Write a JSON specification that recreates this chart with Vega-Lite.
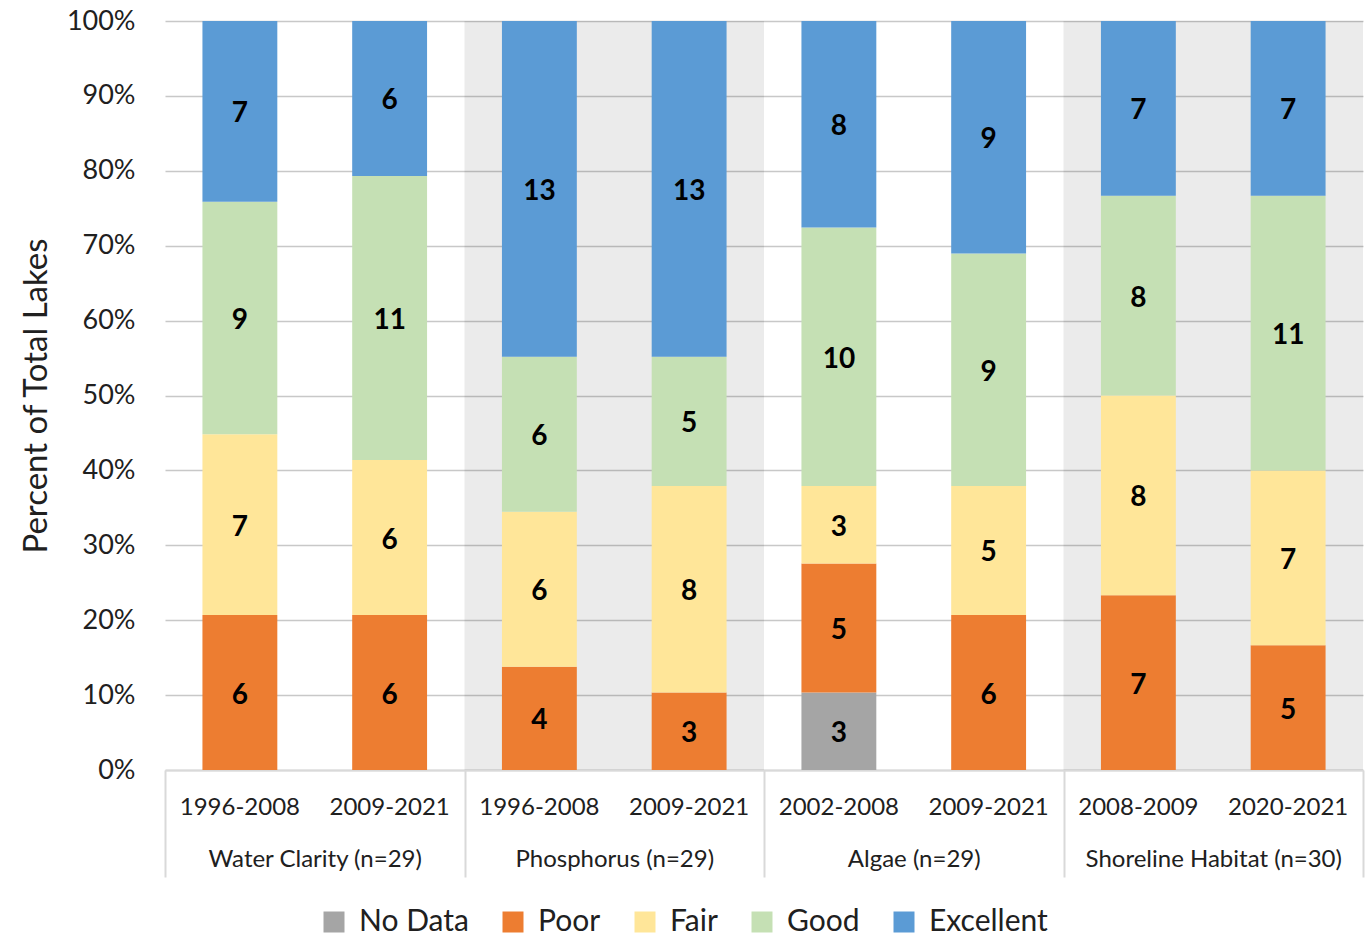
{
  "$schema": "https://vega.github.io/schema/vega-lite/v6.json",
  "width": 1198,
  "height": 749,
  "padding": {"left": 20, "top": 7, "right": 8, "bottom": 0},
  "config": {"font": "Lato", "view": {"stroke": null}},
  "datasets": {
    "groups": [
      {"group": "Water Clarity (n=29)", "shaded": false},
      {"group": "Phosphorus (n=29)", "shaded": true},
      {"group": "Algae (n=29)", "shaded": false},
      {"group": "Shoreline Habitat (n=30)", "shaded": true}
    ],
    "lakes": [
      {"bar": "Water Clarity (n=29)|1996-2008", "category": "Poor", "rank": 1, "count": 6},
      {"bar": "Water Clarity (n=29)|1996-2008", "category": "Fair", "rank": 2, "count": 7},
      {"bar": "Water Clarity (n=29)|1996-2008", "category": "Good", "rank": 3, "count": 9},
      {"bar": "Water Clarity (n=29)|1996-2008", "category": "Excellent", "rank": 4, "count": 7},
      {"bar": "Water Clarity (n=29)|2009-2021", "category": "Poor", "rank": 1, "count": 6},
      {"bar": "Water Clarity (n=29)|2009-2021", "category": "Fair", "rank": 2, "count": 6},
      {"bar": "Water Clarity (n=29)|2009-2021", "category": "Good", "rank": 3, "count": 11},
      {"bar": "Water Clarity (n=29)|2009-2021", "category": "Excellent", "rank": 4, "count": 6},
      {"bar": "Phosphorus (n=29)|1996-2008", "category": "Poor", "rank": 1, "count": 4},
      {"bar": "Phosphorus (n=29)|1996-2008", "category": "Fair", "rank": 2, "count": 6},
      {"bar": "Phosphorus (n=29)|1996-2008", "category": "Good", "rank": 3, "count": 6},
      {"bar": "Phosphorus (n=29)|1996-2008", "category": "Excellent", "rank": 4, "count": 13},
      {"bar": "Phosphorus (n=29)|2009-2021", "category": "Poor", "rank": 1, "count": 3},
      {"bar": "Phosphorus (n=29)|2009-2021", "category": "Fair", "rank": 2, "count": 8},
      {"bar": "Phosphorus (n=29)|2009-2021", "category": "Good", "rank": 3, "count": 5},
      {"bar": "Phosphorus (n=29)|2009-2021", "category": "Excellent", "rank": 4, "count": 13},
      {"bar": "Algae (n=29)|2002-2008", "category": "No Data", "rank": 0, "count": 3},
      {"bar": "Algae (n=29)|2002-2008", "category": "Poor", "rank": 1, "count": 5},
      {"bar": "Algae (n=29)|2002-2008", "category": "Fair", "rank": 2, "count": 3},
      {"bar": "Algae (n=29)|2002-2008", "category": "Good", "rank": 3, "count": 10},
      {"bar": "Algae (n=29)|2002-2008", "category": "Excellent", "rank": 4, "count": 8},
      {"bar": "Algae (n=29)|2009-2021", "category": "Poor", "rank": 1, "count": 6},
      {"bar": "Algae (n=29)|2009-2021", "category": "Fair", "rank": 2, "count": 5},
      {"bar": "Algae (n=29)|2009-2021", "category": "Good", "rank": 3, "count": 9},
      {"bar": "Algae (n=29)|2009-2021", "category": "Excellent", "rank": 4, "count": 9},
      {"bar": "Shoreline Habitat (n=30)|2008-2009", "category": "Poor", "rank": 1, "count": 7},
      {"bar": "Shoreline Habitat (n=30)|2008-2009", "category": "Fair", "rank": 2, "count": 8},
      {"bar": "Shoreline Habitat (n=30)|2008-2009", "category": "Good", "rank": 3, "count": 8},
      {"bar": "Shoreline Habitat (n=30)|2008-2009", "category": "Excellent", "rank": 4, "count": 7},
      {"bar": "Shoreline Habitat (n=30)|2020-2021", "category": "Poor", "rank": 1, "count": 5},
      {"bar": "Shoreline Habitat (n=30)|2020-2021", "category": "Fair", "rank": 2, "count": 7},
      {"bar": "Shoreline Habitat (n=30)|2020-2021", "category": "Good", "rank": 3, "count": 11},
      {"bar": "Shoreline Habitat (n=30)|2020-2021", "category": "Excellent", "rank": 4, "count": 7}
    ]
  },
  "layer": [
    {
      "data": {"name": "groups"},
      "transform": [{"filter": "datum.shaded"}],
      "mark": {"type": "bar", "color": "#000000", "opacity": 0.08},
      "encoding": {
        "x": {
          "field": "group", "type": "nominal",
          "scale": {"domain": ["Water Clarity (n=29)", "Phosphorus (n=29)", "Algae (n=29)", "Shoreline Habitat (n=30)"], "paddingInner": 0, "paddingOuter": 0},
          "axis": {
            "orient": "bottom", "title": null, "labelAngle": 0, "labelFontSize": 24, "labelColor": "#202020", "labelLimit": 400,
            "labelPadding": -30, "tickSize": 107, "tickBand": "extent", "tickColor": "#d9d9d9", "tickWidth": 2,
            "domain": true, "domainColor": "#d9d9d9", "domainWidth": 2, "grid": false
          }
        },
        "y": {"datum": 1, "type": "quantitative"}
      }
    },
    {
      "data": {"name": "lakes"},
      "layer": [
        {
          "mark": {"type": "bar", "width": {"band": 0.5}},
          "encoding": {
            "x": {
              "field": "bar", "type": "nominal", "sort": null,
              "scale": {"paddingInner": 0, "paddingOuter": 0},
              "axis": {
                "orient": "bottom", "title": null, "labelAngle": 0, "labelFontSize": 24, "labelColor": "#202020",
                "labelPadding": 25, "ticks": false, "domain": false, "grid": false,
                "labelExpr": "split(datum.label, '|')[1]"
              }
            },
            "y": {
              "field": "count", "type": "quantitative", "stack": "normalize",
              "scale": {"domain": [0, 1]},
              "axis": {
                "title": "Percent of Total Lakes", "titleFontSize": 33, "titleFontWeight": "normal", "titleColor": "#202020",
                "titlePadding": 13, "format": ".0%", "values": [0, 0.1, 0.2, 0.3, 0.4, 0.5, 0.6, 0.7, 0.8, 0.9, 1],
                "labelFontSize": 27, "labelColor": "#202020", "labelPadding": 30, "ticks": false, "domain": false,
                "grid": true, "gridColor": "#c8c8c8", "gridWidth": 1.5
              }
            },
            "order": {"field": "rank", "type": "quantitative", "sort": "ascending"},
            "color": {
              "field": "category", "type": "nominal",
              "scale": {"domain": ["No Data", "Poor", "Fair", "Good", "Excellent"], "range": ["#a5a5a5", "#ed7d31", "#ffe699", "#c5e0b4", "#5b9bd5"]},
              "legend": {
                "orient": "none", "legendX": 154, "legendY": 886, "direction": "horizontal", "title": null, "symbolType": "square", "symbolSize": 441,
                "symbolStrokeWidth": 0, "labelFontSize": 30, "labelColor": "#202020", "labelOffset": 10, "columnPadding": 29,
                "labelLimit": 300
              }
            }
          }
        },
        {
          "mark": {"type": "text", "fontSize": 28, "fontWeight": "bold", "color": "#000000", "baseline": "middle", "dy": 3},
          "encoding": {
            "x": {"field": "bar", "type": "nominal", "sort": null},
            "y": {"field": "count", "type": "quantitative", "stack": "normalize", "bandPosition": 0.5},
            "detail": {"field": "category"},
            "order": {"field": "rank", "type": "quantitative", "sort": "ascending"},
            "text": {"field": "count", "type": "quantitative"}
          }
        }
      ]
    }
  ],
  "resolve": {"scale": {"x": "independent"}, "axis": {"x": "independent"}}
}
